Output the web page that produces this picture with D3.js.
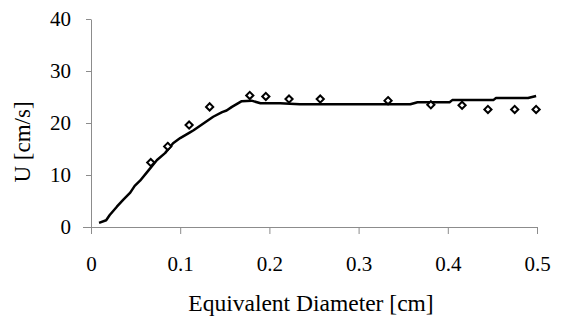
<!DOCTYPE html>
<html>
<head>
<meta charset="utf-8">
<script src="https://cdn.jsdelivr.net/npm/d3@7"></script>
<style>
  body { margin: 0; background: #fff; }
</style>
</head>
<body>
<svg id="chart"></svg>
<script>
// measured points (diamonds)
var measuredD = [0.067, 0.086, 0.110, 0.133, 0.178, 0.196, 0.222, 0.257, 0.333, 0.381, 0.416, 0.445, 0.475, 0.499];
var measuredU = [12.4, 15.5, 19.6, 23.1, 25.3, 25.1, 24.6, 24.6, 24.3, 23.5, 23.4, 22.6, 22.6, 22.6];

// model curve
var modelD = [0.009, 0.017, 0.021, 0.029, 0.036, 0.044, 0.049, 0.055, 0.064, 0.074, 0.083, 0.092, 0.100, 0.111, 0.115,
              0.137, 0.147, 0.152, 0.158, 0.169, 0.180, 0.190, 0.212, 0.234, 0.302, 0.358, 0.366, 0.402, 0.405,
              0.451, 0.454, 0.490, 0.499];
var modelU = [0.8, 1.3, 2.3, 3.9, 5.2, 6.6, 7.9, 8.9, 10.8, 12.9, 14.2, 16.1, 17.1, 18.2, 18.6,
              21.2, 22.1, 22.4, 23.1, 24.2, 24.3, 23.8, 23.8, 23.6, 23.6, 23.6, 24.0, 24.0, 24.4,
              24.4, 24.8, 24.8, 25.2];

var xTicks = [0, 0.1, 0.2, 0.3, 0.4, 0.5];
var yTicks = [0, 10, 20, 30, 40];

var FONT = "'Liberation Serif', 'Times New Roman', Times, serif";

var W = 561, H = 323;
var margin = {top: 19, right: 24, bottom: 96, left: 91};
var width = W - margin.left - margin.right,
    height = H - margin.top - margin.bottom;

var svg = d3.select("#chart").attr("width", W).attr("height", H);
var g = svg.append("g").attr("transform", "translate(" + margin.left + "," + margin.top + ")");

var x = d3.scaleLinear().domain([0, 0.5]).range([0, width]);
var y = d3.scaleLinear().domain([0, 40]).range([height, 0]);

var xAxis = g.append("g")
    .attr("transform", "translate(0," + height + ")")
    .call(d3.axisBottom(x).tickValues(xTicks).tickSize(7).tickSizeOuter(0)
      .tickFormat(function(d) { return d === 0 ? "0" : d3.format(".1f")(d); }));
var yAxis = g.append("g")
    .call(d3.axisLeft(y).tickValues(yTicks).tickSize(5).tickSizeOuter(0));

[xAxis, yAxis].forEach(function(a) {
  a.attr("font-family", FONT).attr("font-size", 21);
  a.select(".domain").attr("stroke", "#8c8c8c");
  a.selectAll(".tick line").attr("stroke", "#8c8c8c");
  a.selectAll("text").style("font-family", FONT).style("font-size", "21px").attr("fill", "#000");
});
xAxis.selectAll("text").attr("y", 44).attr("dy", 0);
yAxis.selectAll("text").attr("x", -20).attr("dy", "0.32em");
// zero-line tick a bit longer like the original
yAxis.selectAll(".tick").filter(function(d) { return d === 0; }).select("line").attr("x2", -8);

// model line
var modelData = modelD.map(function(d, i) { return {d: d, u: modelU[i]}; });
g.append("path")
    .datum(modelData)
    .attr("fill", "none")
    .attr("stroke", "#000")
    .attr("stroke-width", 2.5)
    .attr("stroke-linejoin", "round")
    .attr("d", d3.line().x(function(p) { return x(p.d); }).y(function(p) { return y(p.u); }));

// measured diamonds
var measData = measuredD.map(function(d, i) { return {d: d, u: measuredU[i]}; });
g.selectAll(".pt")
    .data(measData)
  .enter().append("path")
    .attr("class", "pt")
    .attr("transform", function(p) { return "translate(" + x(p.d) + "," + y(p.u) + ")"; })
    .attr("d", "M0,-3.6L3.6,0L0,3.6L-3.6,0Z")
    .attr("fill", "#fff")
    .attr("stroke", "#000")
    .attr("stroke-width", 2);

// axis titles
svg.append("text")
    .attr("x", 311).attr("y", 311)
    .attr("text-anchor", "middle")
    .style("font-family", FONT)
    .style("font-size", "23.5px")
    .text("Equivalent Diameter [cm]");

svg.append("text")
    .attr("transform", "translate(29.5,142) rotate(-90)")
    .attr("text-anchor", "middle")
    .style("font-family", FONT)
    .style("font-size", "23px")
    .text("U [cm/s]");
</script>
</body>
</html>
